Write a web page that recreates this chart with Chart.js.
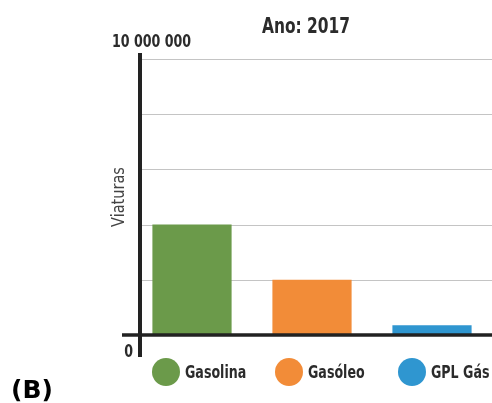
<!DOCTYPE html>
<html>
<head>
<meta charset="utf-8">
<script src="https://cdn.jsdelivr.net/npm/chart.js@4/dist/chart.umd.min.js"></script>
<style>
  html, body { margin: 0; padding: 0; background: #fff; overflow: hidden; }
  #wrap { position: relative; width: 492px; height: 403px; }
</style>
</head>
<body>
<div id="wrap"><canvas id="c" width="492" height="403"></canvas></div>
<script>
// Fuel types and number of vehicles
const categories = ['Gasolina', 'Gasóleo', 'GPL Gás'];
const vehicles = [4000000, 2000000, 350000];
const barColors = ['#6b9a4a', '#f28c38', '#2f96d0'];

// Axis range and the labels shown at its ends
const yMin = 0;
const yMax = 10000000;
const yStep = 2000000;
const yTickLabels = { 0: '0', 10000000: '10 000 000' };
const yTitle = 'Viaturas';
const chartTitle = 'Ano: 2017';
const panelTag = '(B)';

const NARROW = '"DejaVu Sans Condensed", "DejaVu Sans", sans-serif';
const SQUEEZE = 0.78; // horizontal condensing for the narrow labels

// draw text squeezed horizontally around its anchor
function narrowText(ctx, text, x, y, align, squeeze) {
  ctx.save();
  ctx.translate(x, y);
  ctx.scale(squeeze, 1);
  ctx.textAlign = align;
  ctx.fillText(text, 0, 0);
  ctx.restore();
}

const decorations = {
  id: 'decorations',
  beforeDatasetsDraw(chart) {
    const { ctx, chartArea } = chart;
    const y = chart.scales.y;
    const axisX = chartArea.left + 8;
    ctx.save();
    ctx.strokeStyle = '#c4c4c4';
    ctx.lineWidth = 1;
    y.ticks.forEach(t => {
      if (t.value === yMin) return;
      const py = Math.round(y.getPixelForValue(t.value)) + 0.5;
      ctx.beginPath();
      ctx.moveTo(axisX, py);
      ctx.lineTo(chartArea.right, py);
      ctx.stroke();
    });
    ctx.restore();
  },
  afterDatasetsDraw(chart) {
    const { ctx, chartArea } = chart;
    const y = chart.scales.y;
    const axisX = chartArea.left + 8;
    const baseY = y.getPixelForValue(yMin);
    const topY = y.getPixelForValue(yMax);
    ctx.save();
    ctx.strokeStyle = '#222';
    ctx.lineCap = 'butt';
    // baseline
    ctx.lineWidth = 3.5;
    ctx.beginPath();
    ctx.moveTo(chartArea.left - 10, baseY);
    ctx.lineTo(chartArea.right, baseY);
    ctx.stroke();
    // vertical axis
    ctx.lineWidth = 4;
    ctx.beginPath();
    ctx.moveTo(axisX, topY - 6);
    ctx.lineTo(axisX, baseY + 22);
    ctx.stroke();

    ctx.fillStyle = '#2b2b2b';
    ctx.textBaseline = 'alphabetic';
    // end labels of the value axis
    ctx.font = 'bold 18px ' + NARROW;
    narrowText(ctx, yTickLabels[yMax], 112, topY - 12, 'left', SQUEEZE);
    narrowText(ctx, yTickLabels[yMin], 133, baseY + 22, 'right', SQUEEZE);

    // title
    ctx.font = 'bold 22px ' + NARROW;
    narrowText(ctx, chartTitle, 306, 33, 'center', SQUEEZE);

    // axis title
    ctx.save();
    ctx.translate(120, 197);
    ctx.rotate(-Math.PI / 2);
    ctx.font = '17px ' + NARROW;
    ctx.fillStyle = '#444';
    ctx.textBaseline = 'middle';
    narrowText(ctx, yTitle, 0, 0, 'center', 0.95);
    ctx.restore();

    // legend
    ctx.font = 'bold 18px ' + NARROW;
    ctx.textBaseline = 'middle';
    const legendX = [166, 289, 412];
    categories.forEach((name, i) => {
      const cx = legendX[i];
      const cy = 372;
      ctx.fillStyle = barColors[i];
      ctx.beginPath();
      ctx.arc(cx, cy, 14, 0, Math.PI * 2);
      ctx.fill();
      ctx.fillStyle = '#2b2b2b';
      narrowText(ctx, name, cx + 19, cy + 1, 'left', SQUEEZE);
    });

    // panel tag
    ctx.font = 'bold 25px "DejaVu Sans", sans-serif';
    ctx.fillStyle = '#000';
    ctx.textAlign = 'left';
    ctx.textBaseline = 'alphabetic';
    ctx.fillText(panelTag, 11, 398);
    ctx.restore();
  }
};

new Chart(document.getElementById('c'), {
  type: 'bar',
  data: {
    labels: categories,
    datasets: [{
      data: vehicles,
      backgroundColor: barColors,
      borderWidth: 0,
      barPercentage: 0.66,
      categoryPercentage: 1
    }]
  },
  options: {
    responsive: false,
    animation: false,
    events: [],
    layout: { padding: { top: 59, bottom: 68, left: 0, right: 0 } },
    plugins: { legend: { display: false }, title: { display: false }, tooltip: { enabled: false } },
    scales: {
      x: { display: false },
      y: {
        display: true,
        min: yMin,
        max: yMax,
        ticks: { display: false, stepSize: yStep },
        grid: { display: false },
        border: { display: false },
        afterFit(scale) { scale.width = 132; }
      }
    }
  },
  plugins: [decorations]
});
</script>
</body>
</html>
